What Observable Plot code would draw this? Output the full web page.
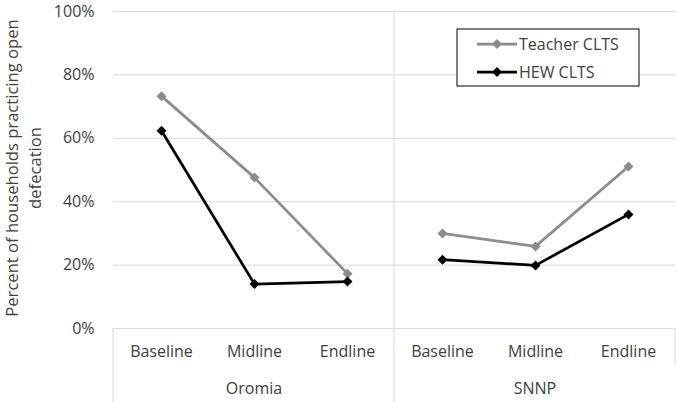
<!DOCTYPE html>
<html><head><meta charset="utf-8">
<script src="https://cdn.jsdelivr.net/npm/d3@7"></script>
<script src="https://cdn.jsdelivr.net/npm/@observablehq/plot@0.6"></script>
<style>body{margin:0;background:#fff;} #chart{position:relative;width:677px;height:402px;}</style>
</head><body><div id="chart"></div>
<script>
const regions = ["Oromia", "SNNP"];
const periods = ["Baseline", "Midline", "Endline"];
const seriesNames = ["Teacher CLTS", "HEW CLTS"];
const seriesColors = ["#8c8c8c", "#000000"];
const teacherCLTS = [0.733, 0.476, 0.173, 0.300, 0.259, 0.511];
const hewCLTS = [0.624, 0.140, 0.148, 0.217, 0.199, 0.360];
const yTicks = [0, 0.2, 0.4, 0.6, 0.8, 1];
const yLabel = "Percent of households practicing open\ndefecation";

const rows = [];
[teacherCLTS, hewCLTS].forEach((vals, si) => vals.forEach((v, i) => rows.push({
  series: seriesNames[si], region: regions[Math.floor(i / 3)], period: periods[i % 3], value: v
})));

const font = "'Open Sans', sans-serif";
const textColor = "#404040";
const FS = 16;
const W = 677, H = 402;
const chart = Plot.plot({
  width: W, height: H,
  marginLeft: 112, marginRight: 2, marginTop: 11, marginBottom: 74,
  style: {fontFamily: font, fontSize: FS + "px", color: textColor, background: "#fff", overflow: "visible"},
  fx: {domain: regions, padding: 0, label: null},
  x: {domain: periods, type: "point", padding: 0.5, label: null},
  y: {domain: [0, 1], label: null},
  color: {domain: seriesNames, range: seriesColors},
  marks: [
    Plot.gridY(yTicks, {stroke: "#d9d9d9", strokeOpacity: 1, strokeWidth: 1}),
    Plot.axisY(yTicks, {tickFormat: d => Math.round(d * 100) + "%", tickSize: 0, tickPadding: 19,
      label: null, fill: textColor, fontSize: FS}),
    Plot.text([yLabel], {fx: () => regions[0], frameAnchor: "left", rotate: -90, dx: -91.5, dy: -2,
      textAnchor: "middle", lineHeight: 1.4, lineAnchor: "middle", fill: textColor, fontSize: 16.6}),
    Plot.axisX({tickSize: 0, tickPadding: 17, label: null, fill: textColor, fontSize: FS}),
    Plot.axisFx({anchor: "bottom", tickSize: 0, tickPadding: 54, label: null, fill: textColor, fontSize: FS}),
    Plot.line(rows, {fx: "region", x: "period", y: "value", z: "series", stroke: "series", strokeWidth: 2.75}),
    Plot.dot(rows, {fx: "region", x: "period", y: "value", fill: "series", symbol: "diamond2", r: 4.5})
  ]
});
document.getElementById("chart").appendChild(chart);

// category box lines drawn from the plot's scales
const fx = chart.scale("fx"), y = chart.scale("y");
const svg = d3.select(chart.tagName.toLowerCase() === "svg" ? chart : chart.querySelector("svg"));
const y0 = y.apply(0), y1 = y.apply(1);
const xL = fx.apply(regions[0]), xM = fx.apply(regions[1]), xR = fx.apply(regions[1]) + fx.bandwidth;
const g = svg.append("g").attr("stroke", "#d9d9d9").attr("stroke-width", 1);
g.append("line").attr("x1", xL).attr("x2", xL).attr("y1", y0).attr("y2", H);
g.append("line").attr("x1", xM).attr("x2", xM).attr("y1", y1).attr("y2", H);
g.append("line").attr("x1", xR).attr("x2", xR).attr("y1", y0).attr("y2", y0 + 36);

// legend
const lg = svg.append("g").attr("transform", "translate(457,29)");
lg.append("rect").attr("width", 182).attr("height", 57).attr("fill", "#fff").attr("stroke", "#000").attr("stroke-width", 1);
seriesNames.forEach((name, i) => {
  const cy = 15 + i * 28;
  lg.append("line").attr("x1", 20).attr("x2", 60).attr("y1", cy).attr("y2", cy)
    .attr("stroke", seriesColors[i]).attr("stroke-width", 2.75);
  lg.append("path").attr("d", d3.symbol(d3.symbolDiamond2, Math.PI * 4.5 * 4.5)()).attr("transform", `translate(40,${cy})`)
    .attr("fill", seriesColors[i]);
  lg.append("text").attr("x", 62).attr("y", cy).attr("dy", "0.35em").attr("fill", textColor)
    .attr("text-anchor", "start")
    .style("font-family", font).style("font-size", FS + "px").text(name);
});
</script>
</body></html>
